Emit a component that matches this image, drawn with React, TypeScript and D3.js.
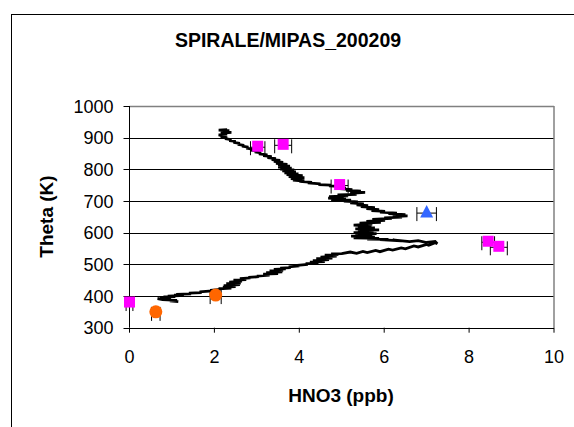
import React from "react";
import * as d3 from "d3";

const TITLE = "SPIRALE/MIPAS_200209";
const X_LABEL = "HNO3 (ppb)";
const Y_LABEL = "Theta (K)";
const X_TICKS = [0, 2, 4, 6, 8, 10];
const Y_TICKS = [300, 400, 500, 600, 700, 800, 900, 1000];

// SPIRALE in-situ profile: [HNO3 ppb, theta K]
const SPIRALE: [number, number][] = [
  [1.15, 382], [0.95, 385], [1.12, 386], [0.78, 389], [0.66, 392], [0.88, 390], [0.72, 394], [0.98, 395],
  [0.8, 397], [1.08, 398], [0.9, 400], [1.18, 401], [1.05, 403], [1.28, 404], [1.1, 405],
  [1.45, 407], [1.4, 409], [1.7, 411], [1.65, 413], [1.95, 416], [1.9, 418], [2.15, 421], [2.1, 423],
  [2.4, 425], [2.2, 428], [2.5, 430], [2.22, 433], [2.6, 436], [2.28, 439], [2.62, 441], [2.35, 444],
  [2.65, 447], [2.45, 450], [2.75, 452], [2.6, 455],
  [2.85, 457], [2.8, 459], [3.05, 461], [3.0, 463],
  [3.3, 466], [3.15, 469], [3.5, 471], [3.22, 474], [3.6, 476], [3.3, 479], [3.62, 481], [3.4, 484],
  [3.68, 486], [3.55, 488],
  [3.8, 490], [3.75, 492], [4.0, 495], [3.95, 497], [4.2, 500], [4.15, 502],
  [4.45, 504], [4.25, 507], [4.6, 509], [4.32, 512], [4.7, 515], [4.4, 518], [4.78, 520], [4.5, 523],
  [4.88, 526], [4.6, 529], [4.92, 531], [4.75, 533],
  [5.0, 534], [5.2, 539], [5.35, 535], [5.5, 541], [5.6, 537], [5.8, 544], [5.9, 540], [6.1, 548],
  [6.2, 545], [6.4, 552], [6.5, 549], [6.7, 558], [6.8, 555], [7.0, 563], [7.05, 560], [7.2, 568],
  [7.25, 565], [7.2, 572], [7.0, 569], [6.8, 575], [6.6, 572], [6.2, 577], [6.4, 574], [5.9, 578],
  [6.1, 579], [5.6, 580],
  [5.88, 582], [5.28, 584], [5.78, 586], [5.22, 589], [5.72, 591], [5.32, 594], [5.82, 597], [5.28, 600],
  [5.75, 603], [5.38, 606], [5.88, 609], [5.32, 612], [5.78, 615], [5.38, 618], [5.7, 621], [5.28, 624],
  [5.72, 627], [5.42, 630], [5.92, 633], [5.58, 636], [6.02, 639], [5.72, 642], [6.18, 645],
  [6.0, 647], [6.42, 649], [6.2, 651], [6.55, 653], [6.3, 655], [6.5, 657], [6.1, 660], [6.3, 662], [5.9, 665],
  [6.02, 667], [5.7, 670], [5.88, 673], [5.58, 676], [5.78, 679], [5.45, 682], [5.62, 685], [5.35, 688],
  [5.52, 691], [5.2, 694], [5.38, 697], [5.05, 700], [5.22, 703],
  [4.75, 704], [5.1, 706], [4.68, 709], [5.05, 711], [4.7, 714], [5.15, 716], [4.9, 719], [5.35, 721],
  [5.2, 724], [5.55, 727], [5.3, 729], [5.45, 731], [5.1, 734], [5.25, 736], [4.95, 739], [5.1, 741],
  [4.85, 744], [4.95, 746], [4.7, 748], [4.75, 750], [4.45, 752], [4.5, 754], [4.2, 757], [4.3, 759],
  [4.0, 762], [4.05, 764],
  [3.85, 766], [4.12, 768], [3.8, 771], [4.12, 774], [3.75, 777], [4.08, 780], [3.7, 783], [3.98, 786],
  [3.65, 789], [3.92, 792], [3.6, 795], [3.88, 798], [3.55, 801], [3.82, 804], [3.5, 807], [3.78, 810],
  [3.5, 813], [3.72, 816], [3.45, 819], [3.62, 822], [3.4, 825], [3.55, 828], [3.35, 831], [3.45, 834],
  [3.25, 837], [3.35, 840], [3.15, 843], [3.25, 846], [3.05, 849], [3.1, 852], [2.95, 855], [3.0, 858],
  [2.85, 861], [2.9, 864], [2.75, 867], [2.8, 870], [2.65, 873], [2.7, 876], [2.55, 879], [2.6, 882],
  [2.45, 885], [2.5, 888], [2.35, 891], [2.4, 894], [2.25, 897], [2.3, 900], [2.15, 903], [2.2, 906],
  [2.1, 909], [2.3, 911], [2.15, 914], [2.4, 917], [2.2, 919], [2.35, 922], [2.1, 924], [2.3, 925],
];

// MIPAS points (magenta squares)
const MIPAS_X = [0.0, 3.02, 3.62, 4.95, 8.45, 8.7];
const MIPAS_Y = [381, 873, 879, 752, 573, 557];
const MIPAS_ERR = [0.08, 0.17, 0.2, 0.2, 0.15, 0.2];

// blue triangle
const TRI_X = [7.0];
const TRI_Y = [665];
const TRI_ERR = [0.23];

// orange circles
const CIRC_X = [0.62, 2.03];
const CIRC_Y = [350, 403];
const CIRC_ERR = [0.1, 0.13];

const FONT = "'Liberation Sans', Arial, sans-serif";

export default function App() {
  const W = 574, H = 427;
  const x = d3.scaleLinear().domain([0, 10]).range([129.5, 554]);
  const y = d3.scaleLinear().domain([300, 1000]).range([327.7, 106]);
  const line = d3.line<[number, number]>().x((d) => x(d[0])).y((d) => y(d[1]));

  const errBar = (vx: number, vy: number, e: number, key: string) => {
    const cy = y(vy);
    return (
      <g key={key} stroke="#000" strokeWidth={1}>
        <line x1={x(vx - e)} x2={x(vx + e)} y1={cy + 1} y2={cy + 1} />
        <line x1={x(vx - e)} x2={x(vx - e)} y1={cy - 5} y2={cy + 9} />
        <line x1={x(vx + e)} x2={x(vx + e)} y1={cy - 5} y2={cy + 9} />
      </g>
    );
  };

  return (
    <svg
      width={W}
      height={H}
      style={{ position: "fixed", left: 0, top: 0, background: "#fff" }}
      fontFamily={FONT}
    >
      <rect x={0} y={0} width={W} height={H} fill="#fff" />
      {/* chart area border */}
      <rect x={11.5} y={14.5} width={700} height={600} fill="none" stroke="#000" strokeWidth={1} />
      <text x={288} y={47.3} textAnchor="middle" fontSize={19.5} fontWeight="bold">
        {TITLE}
      </text>

      {/* gridlines */}
      {Y_TICKS.filter((t) => t > 300 && t < 1000).map((t) => (
        <line key={"g" + t} x1={x(0)} x2={x(10)} y1={Math.round(y(t)) + 0.5} y2={Math.round(y(t)) + 0.5} stroke="#000" strokeWidth={1} />
      ))}
      {/* plot area border top/right */}
      <line x1={x(0)} x2={x(10)} y1={Math.round(y(1000)) + 0.5} y2={Math.round(y(1000)) + 0.5} stroke="#808080" strokeWidth={1.5} />
      <line x1={x(10)} x2={x(10)} y1={y(1000)} y2={y(300)} stroke="#808080" strokeWidth={1.5} />

      {/* axes */}
      <line x1={x(0)} x2={x(0)} y1={y(1000)} y2={y(300)} stroke="#000" strokeWidth={1} />
      <line x1={x(0)} x2={x(10)} y1={Math.round(y(300)) + 0.5} y2={Math.round(y(300)) + 0.5} stroke="#000" strokeWidth={1} />
      {Y_TICKS.map((t) => (
        <g key={"yt" + t}>
          <line x1={x(0) - 6} x2={x(0)} y1={Math.round(y(t)) + 0.5} y2={Math.round(y(t)) + 0.5} stroke="#000" />
          <text x={113.5} y={y(t) + 6.5} textAnchor="end" fontSize={18}>
            {t}
          </text>
        </g>
      ))}
      {X_TICKS.map((t) => (
        <g key={"xt" + t}>
          <line x1={x(t)} x2={x(t)} y1={y(300)} y2={y(300) + 5} stroke="#000" />
          <text x={x(t)} y={362.7} textAnchor="middle" fontSize={18}>
            {t}
          </text>
        </g>
      ))}
      <text x={341} y={401.7} textAnchor="middle" fontSize={19} fontWeight="bold">
        {X_LABEL}
      </text>
      <text transform={`translate(53,216.5) rotate(-90)`} textAnchor="middle" fontSize={19} fontWeight="bold">
        {Y_LABEL}
      </text>

      {/* profile */}
      <path d={line(SPIRALE) || ""} fill="none" stroke="#000" strokeWidth={2.8} strokeLinejoin="miter" strokeMiterlimit={3} />

      {/* error bars */}
      {MIPAS_X.map((v, i) => errBar(v, MIPAS_Y[i], MIPAS_ERR[i], "me" + i))}
      {TRI_X.map((v, i) => errBar(v, TRI_Y[i], TRI_ERR[i], "te" + i))}
      {CIRC_X.map((v, i) => errBar(v, CIRC_Y[i], CIRC_ERR[i], "ce" + i))}

      {/* markers */}
      {MIPAS_X.map((v, i) => (
        <rect key={"m" + i} x={x(v) - 5.5} y={y(MIPAS_Y[i]) - 5.5} width={11} height={11} fill="#FF00FF" />
      ))}
      {TRI_X.map((v, i) => {
        const cx = x(v), cy = y(TRI_Y[i]);
        return (
          <path key={"t" + i} d={`M${cx},${cy - 7}L${cx + 6.5},${cy + 5.5}L${cx - 6.5},${cy + 5.5}Z`} fill="#3366FF" />
        );
      })}
      {CIRC_X.map((v, i) => (
        <circle key={"c" + i} cx={x(v)} cy={y(CIRC_Y[i])} r={6.5} fill="#FF6600" />
      ))}
    </svg>
  );
}
